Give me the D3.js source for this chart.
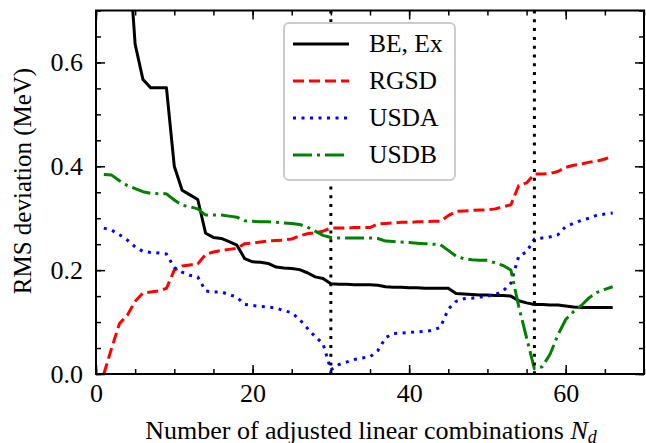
<!DOCTYPE html>
<html>
<head>
<meta charset="utf-8">
<script src="https://cdn.jsdelivr.net/npm/d3@7"></script>
<style>
  body { margin: 0; background: #fff; }
  svg { display: block; font-family: "Liberation Serif", "DejaVu Serif", serif; }
</style>
</head>
<body>
<script>
// number of adjusted linear combinations
const nd = d3.range(1, 67)

// RMS deviation (MeV) per Nd
const beEx = [1.6, 1.3, 1.05, 0.85, 0.635, 0.567, 0.551, 0.551, 0.551, 0.400,
  0.354, 0.345, 0.336, 0.271, 0.263, 0.261, 0.255, 0.248, 0.222, 0.216,
  0.215, 0.213, 0.206, 0.204, 0.203, 0.201, 0.195, 0.187, 0.184, 0.174,
  0.173, 0.173, 0.172, 0.172, 0.172, 0.171, 0.168, 0.167, 0.167, 0.166,
  0.166, 0.165, 0.165, 0.165, 0.165, 0.155, 0.154, 0.153, 0.152, 0.152,
  0.151, 0.151, 0.150, 0.141, 0.137, 0.134, 0.134, 0.133, 0.133, 0.131,
  0.129, 0.128, 0.128, 0.128, 0.128, 0.128]

const rgsd = [0.0, 0.05, 0.097, 0.113, 0.14, 0.156, 0.158, 0.16, 0.165, 0.2,
  0.208, 0.21, 0.212, 0.23, 0.235, 0.238, 0.24, 0.242, 0.251, 0.252,
  0.254, 0.256, 0.257, 0.258, 0.26, 0.266, 0.27, 0.272, 0.275, 0.281,
  0.281, 0.281, 0.282, 0.282, 0.282, 0.289, 0.29, 0.291, 0.292, 0.292,
  0.293, 0.293, 0.294, 0.294, 0.305, 0.313, 0.314, 0.315, 0.316, 0.316,
  0.318, 0.322, 0.326, 0.363, 0.368, 0.385, 0.385, 0.386, 0.39, 0.398,
  0.402, 0.404, 0.408, 0.41, 0.414, 0.419]

const usda = [0.281, 0.277, 0.268, 0.258, 0.245, 0.236, 0.234, 0.233, 0.231, 0.205,
  0.196, 0.19, 0.187, 0.16, 0.158, 0.158, 0.153, 0.148, 0.134, 0.132,
  0.130, 0.129, 0.127, 0.122, 0.118, 0.105, 0.088, 0.072, 0.058, 0.008,
  0.018, 0.023, 0.028, 0.031, 0.033, 0.045, 0.07, 0.078, 0.079, 0.08,
  0.081, 0.082, 0.084, 0.09, 0.125, 0.14, 0.145, 0.146, 0.148, 0.15,
  0.153, 0.16, 0.175, 0.227, 0.235, 0.26, 0.262, 0.264, 0.268, 0.284,
  0.29, 0.296, 0.3, 0.306, 0.308, 0.31]

const usdb = [0.384, 0.383, 0.372, 0.363, 0.357, 0.351, 0.348, 0.347, 0.347, 0.335,
  0.325, 0.322, 0.318, 0.306, 0.306, 0.306, 0.304, 0.302, 0.295, 0.294,
  0.293, 0.293, 0.292, 0.291, 0.29, 0.288, 0.283, 0.275, 0.267, 0.263,
  0.262, 0.262, 0.262, 0.262, 0.262, 0.261, 0.256, 0.255, 0.254, 0.253,
  0.252, 0.251, 0.25, 0.249, 0.238, 0.227, 0.222, 0.22, 0.219, 0.219,
  0.214, 0.209, 0.2, 0.13, 0.07, 0.01, 0.014, 0.038, 0.075, 0.105,
  0.12, 0.132, 0.147, 0.157, 0.163, 0.168]

const markers = [30, 56]
const xTicks = [0, 20, 40, 60]
const yTicks = [0, 0.2, 0.4, 0.6]

const series = [
  { name: 'BE, Ex', values: beEx, color: '#000000', dash: null },
  { name: 'RGSD', values: rgsd, color: '#ff0000', dash: '11,5' },
  { name: 'USDA', values: usda, color: '#0000ff', dash: '3,5.5' },
  { name: 'USDB', values: usdb, color: '#008000', dash: '19,5,3,5' }
]

const W = 646, H = 443
const margin = { top: 10.5, right: 2, bottom: 69, left: 96 }
const width = W - margin.left - margin.right
const height = H - margin.top - margin.bottom

const x = d3.scaleLinear().domain([0, 70]).range([0, width])
const y = d3.scaleLinear().domain([0, 0.7]).range([height, 0])

const svg = d3.select('body').append('svg')
  .attr('width', W)
  .attr('height', H)

const g = svg.append('g')
  .attr('transform', 'translate(' + margin.left + ',' + margin.top + ')')

g.append('clipPath').attr('id', 'plot-clip')
  .append('rect').attr('width', width).attr('height', height)

const plot = g.append('g').attr('clip-path', 'url(#plot-clip)')

const line = d3.line()
  .x(function(d) { return x(d[0]) })
  .y(function(d) { return y(d[1]) })

series.forEach(function(s) {
  plot.append('path')
    .datum(nd.map(function(n, i) { return [n, s.values[i]] }))
    .attr('fill', 'none')
    .attr('stroke', s.color)
    .attr('stroke-width', 3)
    .attr('stroke-dasharray', s.dash)
    .attr('stroke-linejoin', 'round')
    .attr('d', line)
})

plot.selectAll('.marker')
  .data(markers)
  .enter().append('line')
    .attr('class', 'marker')
    .attr('x1', function(d) { return x(d) })
    .attr('x2', function(d) { return x(d) })
    .attr('y1', 0)
    .attr('y2', height)
    .attr('stroke', '#000')
    .attr('stroke-width', 3)
    .attr('stroke-dasharray', '3,5.8')

// axes: ticks pointing in, on all four sides
const minorX = d3.range(0, 71, 5)
const minorY = d3.range(0, 0.701, 0.05)

function styleAxis(sel) {
  sel.select('.domain').remove()
  sel.selectAll('line').attr('stroke', '#000').attr('stroke-width', 1.5)
  sel.selectAll('text')
    .attr('fill', '#000')
    .style('font-family', '"Liberation Serif", serif')
    .style('font-size', '26px')
}

g.append('g').attr('transform', 'translate(0,' + height + ')')
  .call(d3.axisBottom(x).tickValues(minorX).tickSize(-5).tickFormat(''))
  .call(styleAxis)
g.append('g').attr('transform', 'translate(0,' + height + ')')
  .call(d3.axisBottom(x).tickValues(xTicks).tickSize(-9).tickPadding(10).tickFormat(d3.format('d')))
  .call(styleAxis)
g.append('g')
  .call(d3.axisTop(x).tickValues(minorX).tickSize(-5).tickFormat(''))
  .call(styleAxis)
g.append('g')
  .call(d3.axisTop(x).tickValues(xTicks).tickSize(-9).tickFormat(''))
  .call(styleAxis)

g.append('g')
  .call(d3.axisLeft(y).tickValues(minorY).tickSize(-5).tickFormat(''))
  .call(styleAxis)
g.append('g')
  .call(d3.axisLeft(y).tickValues(yTicks).tickSize(-9).tickPadding(13).tickFormat(d3.format('.1f')))
  .call(styleAxis)
g.append('g').attr('transform', 'translate(' + width + ',0)')
  .call(d3.axisRight(y).tickValues(minorY).tickSize(-5).tickFormat(''))
  .call(styleAxis)
g.append('g').attr('transform', 'translate(' + width + ',0)')
  .call(d3.axisRight(y).tickValues(yTicks).tickSize(-9).tickFormat(''))
  .call(styleAxis)

g.append('rect')
  .attr('width', width)
  .attr('height', height)
  .attr('fill', 'none')
  .attr('stroke', '#000')
  .attr('stroke-width', 2)

// legend
const legend = g.append('g').attr('transform', 'translate(188,12.5)')
legend.append('rect')
  .attr('width', 171)
  .attr('height', 157)
  .attr('rx', 5)
  .attr('fill', '#fff')
  .attr('stroke', '#cccccc')
  .attr('stroke-width', 2)

series.forEach(function(s, i) {
  const row = legend.append('g').attr('transform', 'translate(0,' + (21 + i * 37) + ')')
  row.append('line')
    .attr('x1', 9).attr('x2', 65)
    .attr('stroke', s.color)
    .attr('stroke-width', 3)
    .attr('stroke-dasharray', s.dash)
  row.append('text')
    .attr('x', 85)
    .attr('dy', '0.33em')
    .style('font-size', '25.5px')
    .text(s.name)
})

// axis labels
const xl = svg.append('text')
  .attr('x', 371)
  .attr('y', 439)
  .attr('text-anchor', 'middle')
  .style('font-size', '26px')
xl.append('tspan').text('Number of adjusted linear combinations ')
xl.append('tspan').style('font-style', 'italic').text('N')
xl.append('tspan').style('font-style', 'italic').style('font-size', '18px').attr('dy', 4).text('d')

svg.append('text')
  .attr('transform', 'translate(31,181) rotate(-90)')
  .attr('text-anchor', 'middle')
  .style('font-size', '25px')
  .text('RMS deviation (MeV)')
</script>
</body>
</html>
